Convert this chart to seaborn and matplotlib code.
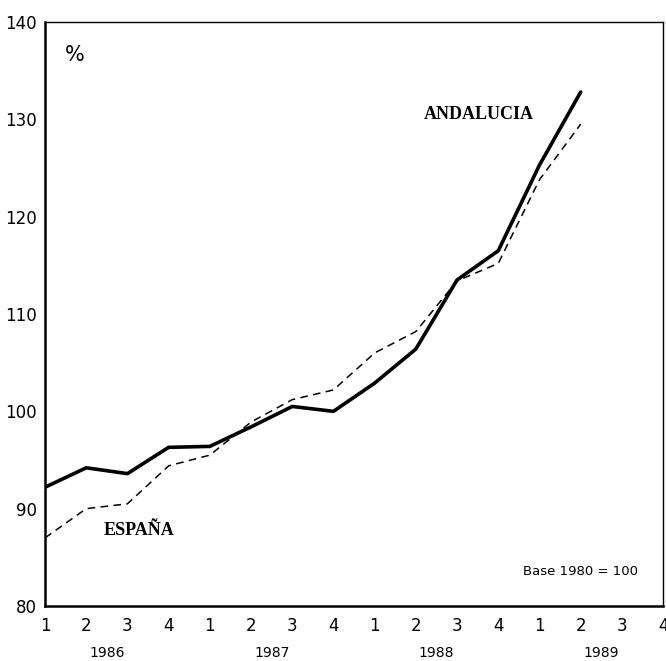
import matplotlib
matplotlib.use("Agg")
import matplotlib.pyplot as plt
import pandas as pd
import seaborn as sns

quarter_labels = ["1", "2", "3", "4"] * 4
years = ["1986", "1987", "1988", "1989"]
andalucia = [92.2, 94.2, 93.6, 96.3, 96.4, 98.4, 100.5, 100.0,
             102.9, 106.4, 113.5, 116.5, 125.3, 132.8]
espana = [87.0, 90.0, 90.5, 94.4, 95.5, 98.9, 101.2, 102.2,
          106.0, 108.2, 113.4, 115.2, 123.8, 129.5]

df = pd.DataFrame(
    {
        "t": list(range(1, len(andalucia) + 1)),
        "ANDALUCIA": andalucia,
        "ESPAÑA": espana,
    }
)

sns.set_style("white")
plt.rcParams["font.family"] = ["Liberation Sans Narrow", "DejaVu Sans"]
plt.rcParams["text.color"] = "black"
plt.rcParams["xtick.color"] = "black"
plt.rcParams["ytick.color"] = "black"

fig = plt.figure(figsize=(6.66, 6.61), dpi=100)
ax = fig.add_axes([0.0676, 0.0832, 0.928, 0.8835])

sns.lineplot(data=df, x="t", y="ANDALUCIA", color="black", linewidth=2.6, ax=ax)
sns.lineplot(data=df, x="t", y="ESPAÑA", color="black", linewidth=1.1,
             linestyle=(0, (5, 3.5)), ax=ax)

ax.set_xlim(1, 16)
ax.set_ylim(80, 140)
ax.set_xticks(range(1, 17))
ax.set_xticklabels(quarter_labels)
ax.set_yticks(range(80, 141, 10))
ax.set_xlabel("")
ax.set_ylabel("")
ax.tick_params(axis="both", direction="in", length=6, width=1.2,
               labelsize=12, color="black", labelcolor="black")
ax.tick_params(axis="x", pad=8)
ax.tick_params(axis="y", pad=6)

for side in ["left", "bottom"]:
    ax.spines[side].set_linewidth(1.8)
for side in ["top", "right"]:
    ax.spines[side].set_linewidth(1.0)
for s in ax.spines.values():
    s.set_color("black")

for i, yr in enumerate(years):
    ax.text(2.5 + 4 * i, -0.08, yr, transform=ax.get_xaxis_transform(),
            ha="center", va="center", fontsize=10)

serif = ["Liberation Serif", "DejaVu Serif"]
ax.text(1.72, 136.6, "%", ha="center", va="center", fontsize=15)
ax.text(11.53, 130.5, "ANDALUCIA", ha="center", va="center",
        fontsize=13, fontweight="bold", family=serif)
ax.text(3.29, 87.8, "ESPAÑA", ha="center", va="center",
        fontsize=13, fontweight="bold", family=serif)
ax.text(14.0, 83.5, "Base 1980 = 100", ha="center", va="center",
        fontsize=9.5)

fig.savefig("out.png", dpi=100)
plt.close(fig)
